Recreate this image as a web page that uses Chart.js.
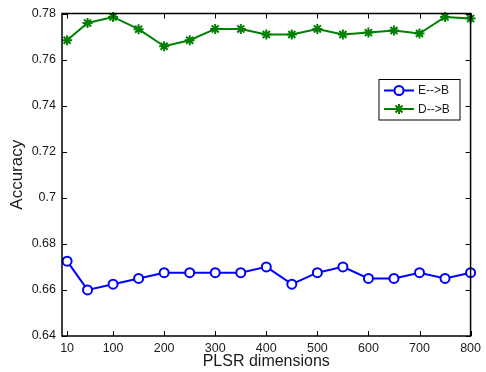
<!DOCTYPE html>
<html lang="en">
<head>
  <meta charset="UTF-8">
  <title>Accuracy vs PLSR dimensions</title>
  <style>
    body{margin:0;padding:0;background:#fff;}
    #wrap{width:486px;height:372px;}
  </style>
  <script src="https://cdn.jsdelivr.net/npm/chart.js"></script>
</head>
<body>
<div id="wrap"><canvas id="acc" width="486" height="372"></canvas></div>
<script>
/* ===== Data ===== */
const dims=[10,50,100,150,200,250,300,350,400,450,500,550,600,650,700,750,800];
const accEB=[0.6725,0.66,0.6625,0.665,0.6675,0.6675,0.6675,0.6675,0.67,0.6625,0.6675,0.67,0.665,0.665,0.6675,0.665,0.6675];
const accDB=[0.7684,0.7759,0.7785,0.7732,0.7658,0.7684,0.7733,0.7733,0.7709,0.7709,0.7733,0.7709,0.7717,0.7726,0.7713,0.7785,0.7778];
const xTicks=[10,100,200,300,400,500,600,700,800];
const yTicks=[0.64,0.66,0.68,0.70,0.72,0.74,0.76,0.78];
const yTickLabels=["0.64","0.66","0.68","0.7","0.72","0.74","0.76","0.78"];
const seriesNames=["E-->B","D-->B"];

const FONT="'Liberation Sans',Arial,Helvetica,sans-serif";
const toPts=ys=>dims.map((x,i)=>({x:x,y:ys[i]}));

/* ===== box, inward ticks, legend (matlab look) ===== */
const matlabBox={
  id:"matlabBox",
  afterDatasetsDraw(chart){
    const {ctx,chartArea:a,scales:{x,y}}=chart;
    ctx.save();
    ctx.strokeStyle="#000";ctx.lineWidth=1.5;
    ctx.strokeRect(a.left,a.top,a.right-a.left,a.bottom-a.top);
    ctx.lineWidth=1;
    const tl=5;
    ctx.beginPath();
    x.ticks.forEach(t=>{const px=Math.round(x.getPixelForValue(t.value))+.5;
      ctx.moveTo(px,a.bottom);ctx.lineTo(px,a.bottom-tl);
      ctx.moveTo(px,a.top);ctx.lineTo(px,a.top+tl);});
    y.ticks.forEach(t=>{const py=Math.round(y.getPixelForValue(t.value))+.5;
      ctx.moveTo(a.left,py);ctx.lineTo(a.left+tl,py);
      ctx.moveTo(a.right,py);ctx.lineTo(a.right-tl,py);});
    ctx.stroke();

    // legend inside plot
    const lx=379,ly=79.5,lw=81,lh=40.5;
    ctx.fillStyle="#fff";ctx.fillRect(lx,ly,lw,lh);
    ctx.strokeStyle="#000";ctx.lineWidth=1;ctx.strokeRect(lx,ly,lw,lh);
    ctx.font="12px "+FONT;ctx.textBaseline="middle";ctx.textAlign="left";
    chart.data.datasets.forEach((ds,i)=>{
      const ry=ly+11+i*18.5;
      ctx.strokeStyle=ds.borderColor;ctx.lineWidth=2;
      ctx.beginPath();ctx.moveTo(lx+5,ry);ctx.lineTo(lx+35,ry);ctx.stroke();
      Chart.helpers.drawPoint(ctx,{pointStyle:ds.pointStyle,radius:ds.pointRadius,borderWidth:ds.pointBorderWidth,rotation:0},lx+20,ry);
      ctx.fillStyle="#1a1a1a";
      ctx.fillText(ds.label,lx+39,ry+0.5);
    });
    ctx.restore();
  }
};

/* ===== Chart ===== */
new Chart(document.getElementById("acc"),{
  type:"line",
  data:{datasets:[
    {label:seriesNames[0],data:toPts(accEB),borderColor:"#0000ff",backgroundColor:"#fff",borderWidth:2,
     pointStyle:"circle",pointRadius:4.5,pointBorderWidth:2,pointBackgroundColor:"#fff",pointBorderColor:"#0000ff",tension:0,clip:false},
    {label:seriesNames[1],data:toPts(accDB),borderColor:"#008000",backgroundColor:"#008000",borderWidth:2,
     pointStyle:"star",pointRadius:5,pointBorderWidth:2,pointBorderColor:"#008000",tension:0,clip:false}
  ]},
  options:{
    responsive:false,animation:false,
    layout:{padding:{top:13,right:14,left:0,bottom:0}},
    plugins:{legend:{display:false},tooltip:{enabled:false}},
    scales:{
      x:{type:"linear",min:0,max:800,
        afterBuildTicks:s=>{s.ticks=xTicks.map(v=>({value:v}));},
        afterFit:s=>{s.height=36;},
        grid:{display:false,drawTicks:false},border:{display:false},
        ticks:{padding:5,color:"#1a1a1a",font:{family:FONT,size:12.5},maxRotation:0,autoSkip:false},
        title:{display:true,text:"PLSR dimensions",color:"#1a1a1a",font:{family:FONT,size:16},padding:{top:0,bottom:1}}},
      y:{type:"linear",min:0.64,max:0.78,
        afterBuildTicks:s=>{s.ticks=yTicks.map(v=>({value:v}));},
        afterFit:s=>{s.width=62;},
        grid:{display:false,drawTicks:false},border:{display:false},
        ticks:{padding:6,color:"#1a1a1a",font:{family:FONT,size:12.5},autoSkip:false,
          callback:(v,i)=>yTickLabels[i]},
        title:{display:true,text:"Accuracy",color:"#1a1a1a",font:{family:FONT,size:17},padding:{top:7,bottom:0}}}
    }
  },
  plugins:[matlabBox]
});
</script>
</body>
</html>
